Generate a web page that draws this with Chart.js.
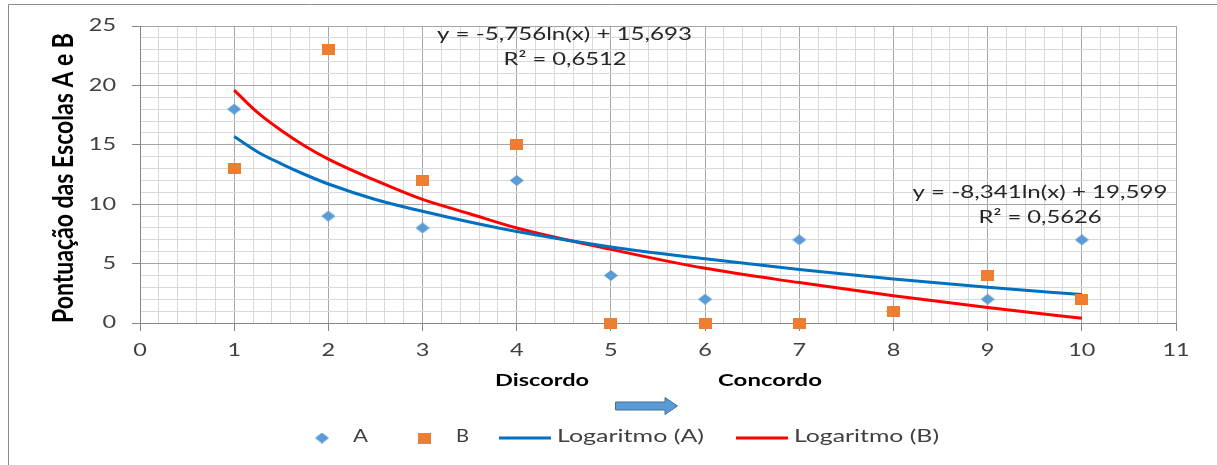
<!DOCTYPE html>
<html lang="pt">
<head>
    <meta charset="UTF-8">
    <title>Pontuação das Escolas A e B</title>
    <style>
        body {
            margin: 0;
            padding: 0;
            background-color: #ffffff;
        }

        #grafico {
            display: block;
        }
    </style>
    <script src="https://cdn.jsdelivr.net/npm/chart.js"></script>
</head>
<body>
    <canvas id="grafico" width="1217" height="465"></canvas>

    <script>
        // Dados
        const escala = [1, 2, 3, 4, 5, 6, 7, 8, 9, 10];
        const escolaA = [18, 9, 8, 12, 4, 2, 7, 1, 2, 7];
        const escolaB = [13, 23, 12, 15, 0, 0, 0, 1, 4, 2];
        // linhas de tendência (valores lidos sobre as curvas)
        const xTendencia = [1, 1.25, 1.5, 1.75, 2, 2.5, 3, 3.5, 4, 5, 6, 7, 8, 9, 10];
        const tendenciaA = [15.7, 14.4, 13.4, 12.5, 11.7, 10.4, 9.4, 8.5, 7.7, 6.4, 5.4, 4.5, 3.7, 3.0, 2.4];
        const tendenciaB = [19.6, 17.7, 16.2, 14.9, 13.8, 12.0, 10.4, 9.2, 8.0, 6.2, 4.6, 3.4, 2.3, 1.3, 0.4];

        const xTickLabels = [0, 1, 2, 3, 4, 5, 6, 7, 8, 9, 10, 11];
        const yTickLabels = [0, 5, 10, 15, 20, 25];

        const nomesSeries = ['A', 'B', 'Logaritmo (A)', 'Logaritmo (B)'];
        const equacaoA = 'y = -5,756ln(x) + 15,693';
        const r2A = 'R² = 0,6512';
        const equacaoB = 'y = -8,341ln(x) + 19,599';
        const r2B = 'R² = 0,5626';

        const FONTE = 'Lato, "Open Sans", sans-serif';

        function makeMarker(shape, color, w, h) {
            const c = document.createElement('canvas');
            c.width = w;
            c.height = h;
            const g = c.getContext('2d');
            g.fillStyle = color;
            if (shape === 'diamond') {
                g.beginPath();
                g.moveTo(w / 2, 0);
                g.lineTo(w, h / 2);
                g.lineTo(w / 2, h);
                g.lineTo(0, h / 2);
                g.closePath();
                g.fill();
            } else {
                g.fillRect(0, 0, w, h);
            }
            return c;
        }

        const diamante = makeMarker('diamond', '#5b9bd5', 14, 11);
        const quadrado = makeMarker('square', '#ed7d31', 13, 11);

        const toPoints = (xs, ys) => xs.map((x, i) => ({ x: x, y: ys[i] }));

        const isInt = v => Math.abs(v - Math.round(v)) < 1e-6;
        const majorX = v => isInt(v);
        const majorY = v => isInt(v) && Math.round(v) % 5 === 0;

        // texto esticado na horizontal (o original está alongado)
        function drawText(ctx, text, x, y, o) {
            ctx.save();
            ctx.font = (o.weight || 'normal') + ' ' + o.size + 'px ' + FONTE;
            const w = ctx.measureText(text).width;
            const sx = o.width ? o.width / w : (o.sx || 1.38);
            ctx.translate(x, y);
            ctx.scale(sx, 1);
            ctx.fillStyle = o.color || '#404040';
            ctx.textAlign = o.align || 'center';
            ctx.textBaseline = 'middle';
            ctx.fillText(text, 0, 0);
            ctx.restore();
        }

        const extras = {
            id: 'extras',
            afterDraw(chart) {
                const ctx = chart.ctx;
                const xs = chart.scales.x;
                const ys = chart.scales.y;

                // moldura
                ctx.save();
                ctx.strokeStyle = '#8c8c8c';
                ctx.lineWidth = 1;
                ctx.beginPath();
                ctx.moveTo(1217, 4.5);
                ctx.lineTo(8.5, 4.5);
                ctx.lineTo(8.5, 465);
                ctx.stroke();
                ctx.restore();

                // rótulos dos eixos
                xTickLabels.forEach(v => {
                    drawText(ctx, String(v), xs.getPixelForValue(v), 351, { size: 17 });
                });
                yTickLabels.forEach(v => {
                    drawText(ctx, String(v), 116, ys.getPixelForValue(v), { size: 17, align: 'right' });
                });

                // título do eixo y
                ctx.save();
                ctx.font = 'bold 22px ' + FONTE;
                const tw = ctx.measureText('Pontuação das Escolas A e B').width;
                ctx.translate(73, 178);
                ctx.rotate(-Math.PI / 2);
                ctx.scale(290 / tw, 1.33);
                ctx.fillStyle = '#000000';
                ctx.textAlign = 'center';
                ctx.textBaseline = 'alphabetic';
                ctx.fillText('Pontuação das Escolas A e B', 0, 0);
                ctx.restore();

                drawText(ctx, 'Discordo', 542, 381, { size: 17, weight: 'bold', width: 94, color: '#000' });
                drawText(ctx, 'Concordo', 770, 381, { size: 17, weight: 'bold', width: 104, color: '#000' });

                // seta
                ctx.save();
                ctx.fillStyle = '#5b9bd5';
                ctx.strokeStyle = '#41719c';
                ctx.lineWidth = 1;
                ctx.beginPath();
                ctx.moveTo(615.5, 402);
                ctx.lineTo(665, 402);
                ctx.lineTo(665, 397.5);
                ctx.lineTo(677.5, 406);
                ctx.lineTo(665, 414.5);
                ctx.lineTo(665, 410);
                ctx.lineTo(615.5, 410);
                ctx.closePath();
                ctx.fill();
                ctx.stroke();
                ctx.restore();

                // equações
                drawText(ctx, equacaoA, 564.5, 34, { size: 18, width: 255, color: '#262626' });
                drawText(ctx, r2A, 565, 59, { size: 18, width: 123, color: '#262626' });
                drawText(ctx, equacaoB, 1040, 192, { size: 18, width: 255, color: '#262626' });
                drawText(ctx, r2B, 1040, 217, { size: 18, width: 123, color: '#262626' });

                // legenda
                const ly = 438;
                ctx.drawImage(diamante, 322 - 7, ly - 5.5);
                drawText(ctx, nomesSeries[0], 353, ly - 1, { size: 17, align: 'left', width: 15 });
                ctx.drawImage(quadrado, 424 - 6.5, ly - 5.5);
                drawText(ctx, nomesSeries[1], 456, ly - 1, { size: 17, align: 'left', width: 13 });
                ctx.save();
                ctx.lineWidth = 3;
                ctx.strokeStyle = '#0070c0';
                ctx.beginPath();
                ctx.moveTo(499, ly);
                ctx.lineTo(551, ly);
                ctx.stroke();
                ctx.strokeStyle = '#ff0000';
                ctx.beginPath();
                ctx.moveTo(736, ly);
                ctx.lineTo(788, ly);
                ctx.stroke();
                ctx.restore();
                drawText(ctx, nomesSeries[2], 557, ly - 1, { size: 17, align: 'left', width: 147 });
                drawText(ctx, nomesSeries[3], 794, ly - 1, { size: 17, align: 'left', width: 145 });
            }
        };

        const grafico = new Chart(document.getElementById('grafico'), {
            type: 'scatter',
            data: {
                datasets: [
                    {
                        label: nomesSeries[0],
                        data: toPoints(escala, escolaA),
                        pointStyle: diamante,
                        clip: false,
                        order: 1
                    },
                    {
                        label: nomesSeries[1],
                        data: toPoints(escala, escolaB),
                        pointStyle: quadrado,
                        clip: false,
                        order: 0
                    },
                    {
                        label: nomesSeries[2],
                        data: toPoints(xTendencia, tendenciaA),
                        showLine: true,
                        borderColor: '#0070c0',
                        borderWidth: 3,
                        pointRadius: 0,
                        cubicInterpolationMode: 'monotone',
                        order: 2
                    },
                    {
                        label: nomesSeries[3],
                        data: toPoints(xTendencia, tendenciaB),
                        showLine: true,
                        borderColor: '#ff0000',
                        borderWidth: 3,
                        pointRadius: 0,
                        cubicInterpolationMode: 'monotone',
                        order: 2
                    }
                ]
            },
            options: {
                responsive: false,
                animation: false,
                layout: {
                    padding: { top: 26, right: 41, left: 0, bottom: 0 }
                },
                plugins: {
                    legend: { display: false },
                    tooltip: { enabled: false }
                },
                scales: {
                    x: {
                        type: 'linear',
                        min: 0,
                        max: 11,
                        ticks: { stepSize: 0.2, display: false, autoSkip: false },
                        grid: {
                            color: c => majorX(c.tick.value) ? '#a6a6a6' : '#d9d9d9',
                            tickColor: c => majorX(c.tick.value) ? '#868686' : 'rgba(0,0,0,0)',
                            tickLength: 8
                        },
                        border: { color: '#868686' },
                        afterFit: s => { s.height = 142; }
                    },
                    y: {
                        type: 'linear',
                        min: 0,
                        max: 25,
                        ticks: { stepSize: 1, display: false },
                        grid: {
                            color: c => majorY(c.tick.value) ? '#a6a6a6' : '#d9d9d9',
                            tickColor: c => majorY(c.tick.value) ? '#868686' : 'rgba(0,0,0,0)',
                            tickLength: 8
                        },
                        border: { color: '#868686' },
                        afterFit: s => { s.width = 140; }
                    }
                }
            },
            plugins: [extras]
        });
    </script>
</body>
</html>
